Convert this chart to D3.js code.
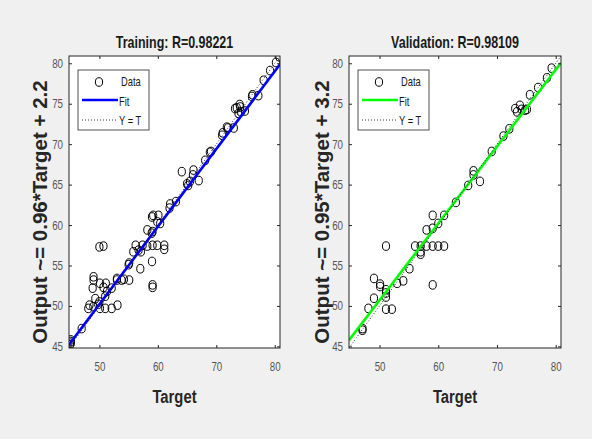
<!DOCTYPE html>
<html>
<head>
<meta charset="utf-8">
<script src="https://cdn.jsdelivr.net/npm/d3@7"></script>
<style>
  body { margin: 0; background: #f0f0f0; }
  .tick text { font-family: "Liberation Sans", Arial, sans-serif; font-size: 12.5px; fill: #555; }
</style>
</head>
<body>
<div id="chart"></div>
<script>
// Values
var trainTarget = [80.8, 80.2, 79.2, 78.1, 77.2, 76.1, 76.2, 73.2, 74.1, 74.2, 74.9, 73.8, 73.5, 74.0,
    73.0, 71.8, 71.1, 71.0, 72.0, 69.1, 68.1, 68.9, 66.1, 64.1, 67.0, 65.5, 65.0, 66.0, 65.2,
    63.1, 62.1, 62.0, 60.1, 59.2, 59.0, 60.4, 59.9, 59.1, 58.2, 58.95, 61.1, 61.1, 59.9, 59.1,
    58.2, 57.4, 56.2, 55.8, 57.1, 56.7, 59.0, 57.0, 55.0, 55.1, 50.7, 50.0, 53.8, 53.0, 55.1,
    54.2, 53.0, 49.0, 49.0, 48.85, 50.1, 51.1, 51.0, 51.3, 52.1, 50.7, 49.3, 48.3, 48.1, 49.8,
    50.1, 51.0, 52.1, 53.1, 48.96, 50.0, 59.1, 59.1, 46.97, 45.1, 45.1, 45.1, 45.0];
var trainOutput = [80.8, 80.1, 79.1, 77.9, 76.0, 75.9, 76.1, 74.4, 74.6, 74.0, 74.1, 73.8, 74.5, 74.9,
    72.0, 72.1, 71.4, 71.1, 72.0, 69.1, 68.0, 69.0, 66.8, 66.6, 65.5, 65.4, 65.1, 66.2, 64.9,
    62.9, 62.6, 62.1, 61.2, 61.2, 61.0, 60.2, 60.4, 59.2, 59.4, 59.0, 57.5, 57.0, 57.5, 57.5,
    57.4, 57.5, 57.5, 56.7, 56.7, 56.9, 55.5, 54.6, 55.1, 55.3, 57.4, 57.3, 53.2, 53.2, 53.2,
    53.3, 53.4, 53.6, 53.2, 52.2, 52.8, 52.8, 51.2, 51.8, 52.2, 52.3, 50.9, 50.1, 49.7, 50.2,
    49.7, 49.7, 49.7, 50.1, 49.9, 50.5, 52.6, 52.3, 47.2, 45.4, 45.6, 45.8, 45.2];

var valTarget = [47.1, 47.1, 48.1, 49.05, 49.05, 50.1, 50.1, 51.1, 51.1, 51.1, 51.1, 51.1, 52.1,
    53.0, 54.05, 55.1, 56.05, 57.0, 57.0, 57.0, 58.0, 58.0, 59.05, 60.0, 61.0, 59.05, 59.05,
    59.05, 60.0, 61.0, 63.0, 65.1, 66.0, 66.0, 67.1, 69.1, 71.1, 72.1, 73.1, 73.9, 74.2, 75.1,
    73.4, 74.8, 75.6, 77.0, 78.5, 79.3];
var valOutput = [47.2, 47.0, 49.7, 50.95, 53.4, 52.7, 52.4, 52.0, 51.1, 51.6, 57.4, 49.6, 49.6,
    52.8, 53.1, 54.6, 57.4, 57.4, 56.4, 56.7, 59.4, 57.4, 57.4, 57.4, 57.4, 61.2, 59.6,
    52.6, 60.2, 61.2, 62.8, 64.9, 66.7, 66.2, 65.4, 69.1, 71.0, 71.9, 74.4, 74.8, 74.3, 74.3,
    74.0, 74.2, 76.1, 77.0, 78.2, 79.4];

var xTicks = [50, 60, 70, 80];
var yTicks = [45, 50, 55, 60, 65, 70, 75, 80];
var axisDomain = [44.8, 80.9];

var svgWidth = 592;
var svgHeight = 439;
var plotTop = 56;
var plotBottom = 348;
var squeeze = 0.78;   // the reference text is horizontally compressed
var font = '"Liberation Sans", Arial, sans-serif';

var svg = d3.select("#chart")
    .append("svg")
    .attr("width", svgWidth)
    .attr("height", svgHeight);

svg.append("rect")
    .attr("width", svgWidth)
    .attr("height", svgHeight)
    .attr("fill", "#f0f0f0");

// horizontal text, squeezed along x
function hText(parent, x, y, str, size, weight, anchor, color) {
    return parent.append("text")
        .attr("transform", "translate(" + x + "," + y + ") scale(" + squeeze + ",1)")
        .attr("text-anchor", anchor)
        .style("font-family", font)
        .style("font-size", size + "px")
        .style("font-weight", weight)
        .attr("fill", color)
        .text(str);
}

var panels = [
    { id: "train", left: 69, right: 280, title: "Training: R=0.98221",
      ylabel: "Output ~= 0.96*Target + 2.2", slope: 0.96, icpt: 2.2, color: "#0000ff",
      target: trainTarget, output: trainOutput, ylabelX: 47 },
    { id: "val", left: 349, right: 561, title: "Validation: R=0.98109",
      ylabel: "Output ~= 0.95*Target + 3.2", slope: 0.95, icpt: 3.2, color: "#00ff00",
      target: valTarget, output: valOutput, ylabelX: 329 }
];

panels.forEach(function(p) {
    var x = d3.scaleLinear().domain(axisDomain).range([p.left, p.right]);
    var y = d3.scaleLinear().domain(axisDomain).range([plotBottom, plotTop]);
    var g = svg.append("g");

    g.append("rect")
        .attr("x", p.left).attr("y", plotTop)
        .attr("width", p.right - p.left).attr("height", plotBottom - plotTop)
        .attr("fill", "#ffffff");

    g.append("clipPath").attr("id", "clip-" + p.id)
        .append("rect")
        .attr("x", p.left).attr("y", plotTop)
        .attr("width", p.right - p.left).attr("height", plotBottom - plotTop);

    var inner = g.append("g").attr("clip-path", "url(#clip-" + p.id + ")");

    // data markers
    inner.selectAll("ellipse")
        .data(p.target)
        .enter()
        .append("ellipse")
        .attr("cx", function(d) { return x(d); })
        .attr("cy", function(d, i) { return y(p.output[i]); })
        .attr("rx", 3.6)
        .attr("ry", 4.3)
        .attr("fill", "none")
        .attr("stroke", "#000")
        .attr("stroke-width", 1);

    // fit line
    inner.append("line")
        .attr("x1", x(axisDomain[0])).attr("y1", y(p.slope * axisDomain[0] + p.icpt))
        .attr("x2", x(axisDomain[1])).attr("y2", y(p.slope * axisDomain[1] + p.icpt))
        .attr("stroke", p.color).attr("stroke-width", 2.6);

    // Y = T
    inner.append("line")
        .attr("x1", x(axisDomain[0])).attr("y1", y(axisDomain[0]))
        .attr("x2", x(axisDomain[1])).attr("y2", y(axisDomain[1]))
        .attr("stroke", "#000").attr("stroke-width", 0.8)
        .attr("stroke-dasharray", "1,2");

    // axes with inward ticks, mirrored on top and right
    var bottomAxis = d3.axisBottom(x).tickValues(xTicks).tickSizeInner(-3).tickSizeOuter(0).tickPadding(14);
    var topAxis = d3.axisTop(x).tickValues(xTicks).tickSizeInner(-3).tickSizeOuter(0).tickFormat("");
    var leftAxis = d3.axisLeft(y).tickValues(yTicks).tickSizeInner(-3).tickSizeOuter(0).tickPadding(6);
    var rightAxis = d3.axisRight(y).tickValues(yTicks).tickSizeInner(-3).tickSizeOuter(0).tickFormat("");

    [
        [bottomAxis, "translate(0," + plotBottom + ")"],
        [topAxis, "translate(0," + plotTop + ")"],
        [leftAxis, "translate(" + p.left + ",0)"],
        [rightAxis, "translate(" + p.right + ",0)"]
    ].forEach(function(a) {
        var ax = g.append("g").attr("transform", a[1]).call(a[0]);
        ax.select(".domain").remove();
        ax.selectAll(".tick line").attr("stroke", "#262626");
        ax.selectAll(".tick text")
            .attr("x", function() { return +d3.select(this).attr("x") / squeeze; })
            .attr("transform", "scale(" + squeeze + ",1)");
    });

    g.append("rect")
        .attr("x", p.left).attr("y", plotTop)
        .attr("width", p.right - p.left).attr("height", plotBottom - plotTop)
        .attr("fill", "none").attr("stroke", "#262626").attr("stroke-width", 1);

    var cx = (p.left + p.right) / 2;

    hText(g, cx, 48, p.title, 16, "bold", "middle", "#1a1a1a");
    hText(g, cx, 403, "Target", 19, "bold", "middle", "#262626");

    g.append("text")
        .attr("transform", "translate(" + p.ylabelX + "," + 212 + ") rotate(-90)")
        .attr("text-anchor", "middle")
        .style("font-family", font)
        .style("font-weight", "bold").style("font-size", "20.5px")
        .attr("fill", "#262626")
        .text(p.ylabel);

    // legend
    var lx = p.left + 9;
    var leg = g.append("g");
    leg.append("rect")
        .attr("x", lx).attr("y", 70).attr("width", 71).attr("height", 60)
        .attr("fill", "#fff").attr("stroke", "#262626").attr("stroke-width", 0.8);
    leg.append("ellipse")
        .attr("cx", lx + 21).attr("cy", 82).attr("rx", 3.6).attr("ry", 4.3)
        .attr("fill", "none").attr("stroke", "#000");
    leg.append("line")
        .attr("x1", lx + 4).attr("x2", lx + 40).attr("y1", 100).attr("y2", 100)
        .attr("stroke", p.color).attr("stroke-width", 2.6);
    leg.append("line")
        .attr("x1", lx + 4).attr("x2", lx + 40).attr("y1", 120).attr("y2", 120)
        .attr("stroke", "#000").attr("stroke-width", 0.8).attr("stroke-dasharray", "1,2");
    ["Data", "Fit", "Y = T"].forEach(function(label, i) {
        hText(leg, i === 0 ? lx + 43 : lx + 41, 86 + i * 19.5, label, 12, "normal", "start", "#1a1a1a");
    });
});
</script>
</body>
</html>
